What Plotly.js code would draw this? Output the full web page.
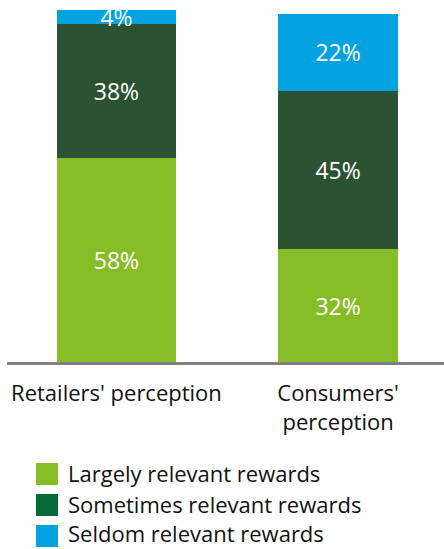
<!DOCTYPE html>
<html>
<head>
<meta charset="utf-8">
<script src="https://cdn.plot.ly/plotly-3.0.1.min.js"></script>
<style>
  html, body { margin: 0; padding: 0; background: #fff; }
  #chart { width: 444px; height: 549px; }
</style>
</head>
<body>
<div id="chart"></div>
<script>
// ---- Data ----
var categories = ["Retailers' perception", "Consumers'<br>perception"];
var seriesNames = ["Largely relevant rewards", "Sometimes relevant rewards", "Seldom relevant rewards"];
var largely = [58, 32];
var sometimes = [38, 45];
var seldom = [4, 22];

// ---- Styles ----
var barColors = ["#86BC25", "#2C5234", "#00A3E0"];
var legendColors = ["#86BC25", "#046A38", "#00A3E0"];
var font = "Open Sans, Noto Sans, sans-serif";

var W = 444, H = 549;
var margin = {l: 7, r: 0, t: 10, b: 187};
var plotW = W - margin.l - margin.r;
var plotH = H - margin.t - margin.b;
function px2x(px) { return (px - margin.l) / plotW; }
function py2y(py) { return (H - margin.b - py) / plotH; }

var values = [largely, sometimes, seldom];
var traces = values.map(function (vals, i) {
  return {
    type: 'bar',
    name: seriesNames[i],
    x: categories,
    y: vals,
    width: 0.54,
    marker: {color: barColors[i], line: {width: 0}},
    texttemplate: '%{y}%',
    textposition: 'inside',
    insidetextanchor: 'middle',
    constraintext: 'none',
    textangle: 0,
    textfont: {family: font, size: 23, color: '#ffffff'},
    hoverinfo: 'skip',
    showlegend: false,
    cliponaxis: false
  };
});

// legend drawn as shapes + annotations
var shapes = [], annotations = [];
var rowCenters = [474, 505, 536];
seriesNames.forEach(function (name, i) {
  var cy = rowCenters[i];
  shapes.push({
    type: 'rect', xref: 'paper', yref: 'paper',
    x0: px2x(36), x1: px2x(58), y0: py2y(cy + 11), y1: py2y(cy - 11),
    fillcolor: legendColors[i], line: {width: 0}
  });
  annotations.push({
    xref: 'paper', yref: 'paper', x: px2x(67), y: py2y(Math.min(cy - 1, 533)),
    xanchor: 'left', yanchor: 'middle', showarrow: false, borderpad: 0,
    text: name, font: {family: font, size: 22, color: '#111111'}
  });
});

var layout = {
  width: W, height: H,
  margin: margin,
  paper_bgcolor: '#ffffff', plot_bgcolor: '#ffffff',
  barmode: 'stack',
  showlegend: false,
  xaxis: {
    type: 'category',
    range: [-0.494, 1.478],
    showline: true, linecolor: '#808080', linewidth: 2.5,
    showgrid: false, zeroline: false, ticks: '',
    tickfont: {family: font, size: 22, color: '#111111'},
    ticklabelstandoff: 10,
    fixedrange: true
  },
  yaxis: {
    range: [0, 100],
    visible: false,
    showgrid: false, zeroline: false,
    fixedrange: true
  },
  shapes: shapes,
  annotations: annotations
};

Plotly.newPlot('chart', traces, layout, {displayModeBar: false, staticPlot: true});
</script>
</body>
</html>
